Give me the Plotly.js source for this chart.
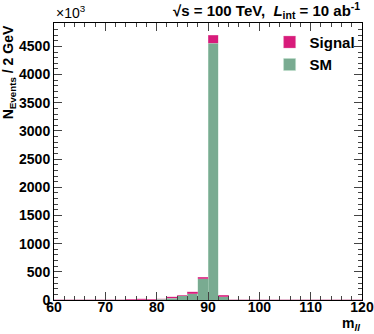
<!DOCTYPE html>
<html>
<head>
<meta charset="utf-8">
<script src="https://cdn.plot.ly/plotly-3.0.1.min.js"></script>
<style>
  html, body { margin: 0; padding: 0; background: #fff; }
  #chart { width: 374px; height: 334px; }
</style>
</head>
<body>
<div id="chart"></div>
<script>
// bin centres of m_ll (2 GeV bins from 60 to 120)
const binCenters = [61, 63, 65, 67, 69, 71, 73, 75, 77, 79, 81, 83, 85, 87, 89,
                    91, 93, 95, 97, 99, 101, 103, 105, 107, 109, 111, 113, 115, 117, 119];

// events / 2 GeV in units of 10^3
const smValues = [2, 2, 2, 2, 2, 2, 3, 5, 5, 8, 12, 30, 75, 110, 375,
                  4560, 62, 2, 2, 2, 2, 2, 2, 2, 2, 2, 2, 2, 2, 2];
const signalValues = [0, 0, 0, 0, 0, 3, 5, 5, 20, 5, 8, 25, 10, 35, 25,
                      140, 18, 0, 0, 0, 0, 0, 0, 0, 0, 0, 0, 0, 0, 0];

const xTicks = [60, 70, 80, 90, 100, 110, 120];
const yTicks = [0, 500, 1000, 1500, 2000, 2500, 3000, 3500, 4000, 4500];

const smColor = '#79ab91';
const signalColor = '#d81b7b';
const boldFont = { family: 'Liberation Sans, Arial, sans-serif', size: 14, color: '#000', weight: 'bold' };

const smTrace = {
  type: 'bar',
  name: 'SM',
  x: binCenters,
  y: smValues,
  width: 2,
  marker: { color: smColor, line: { color: 'rgba(190,225,205,0.7)', width: 0.6 } },
  hoverinfo: 'x+y'
};

const signalTrace = {
  type: 'bar',
  name: 'Signal',
  x: binCenters,
  y: signalValues,
  width: 2,
  marker: { color: signalColor, line: { color: 'rgba(230,150,190,0.6)', width: 0.6 } },
  hoverinfo: 'x+y'
};

const layout = {
  width: 374,
  height: 334,
  margin: { l: 54, r: 12, t: 23, b: 34 },
  paper_bgcolor: '#fff',
  plot_bgcolor: '#fff',
  barmode: 'stack',
  bargap: 0,
  showlegend: true,
  legend: {
    x: 0.7, y: 0.99, xanchor: 'left', yanchor: 'top',
    traceorder: 'reversed',
    bgcolor: 'rgba(0,0,0,0)',
    font: { family: 'Liberation Sans, Arial, sans-serif', size: 15, color: '#000', weight: 'bold' },
    itemwidth: 30,
    tracegroupgap: 0
  },
  xaxis: {
    range: [60, 120],
    tickvals: xTicks,
    ticktext: xTicks.map(String),
    ticks: 'inside',
    ticklen: 8,
    tickcolor: '#444',
    tickfont: boldFont,
    ticklabelstandoff: -6,
    minor: { dtick: 2, ticks: 'inside', ticklen: 4, tickcolor: '#444', showgrid: false },
    showline: true,
    linecolor: '#000',
    linewidth: 1,
    mirror: 'ticks',
    showgrid: false,
    zeroline: false
  },
  yaxis: {
    range: [0, 4915],
    tickvals: yTicks,
    ticktext: yTicks.map(String),
    ticks: 'inside',
    ticklen: 8,
    tickcolor: '#444',
    tickfont: boldFont,
    ticklabelstandoff: 0,
    minor: { dtick: 100, ticks: 'inside', ticklen: 4, tickcolor: '#444', showgrid: false },
    showline: true,
    linecolor: '#000',
    linewidth: 1,
    mirror: 'ticks',
    showgrid: false,
    zeroline: false
  },
  annotations: [
    {
      text: '×10<sup>3</sup>',
      xref: 'paper', yref: 'paper', x: 0, y: 1, xanchor: 'left', yanchor: 'bottom',
      showarrow: false, font: { family: 'Liberation Sans, Arial, sans-serif', size: 14, color: '#000' }
    },
    {
      text: '√s = 100 TeV,  <i>L</i><sub>int</sub> = 10 ab<sup>-1</sup>',
      xref: 'paper', yref: 'paper', x: 1, y: 1, xanchor: 'right', yanchor: 'bottom',
      yshift: 0,
      showarrow: false, font: { family: 'Liberation Sans, Arial, sans-serif', size: 15, color: '#000', weight: 'bold' }
    },
    {
      text: 'N<sub>Events</sub> / 2 GeV',
      xref: 'paper', yref: 'paper', x: -0.145, y: 1.0, xanchor: 'center', yanchor: 'top',
      textangle: -90, showarrow: false, font: boldFont
    },
    {
      text: 'm<sub><i>ll</i></sub>',
      xref: 'paper', yref: 'paper', x: 1, y: 0, xanchor: 'right', yanchor: 'top',
      yshift: -13, showarrow: false, font: boldFont
    }
  ]
};

Plotly.newPlot('chart', [smTrace, signalTrace], layout, { displayModeBar: false, staticPlot: true });
</script>
</body>
</html>
